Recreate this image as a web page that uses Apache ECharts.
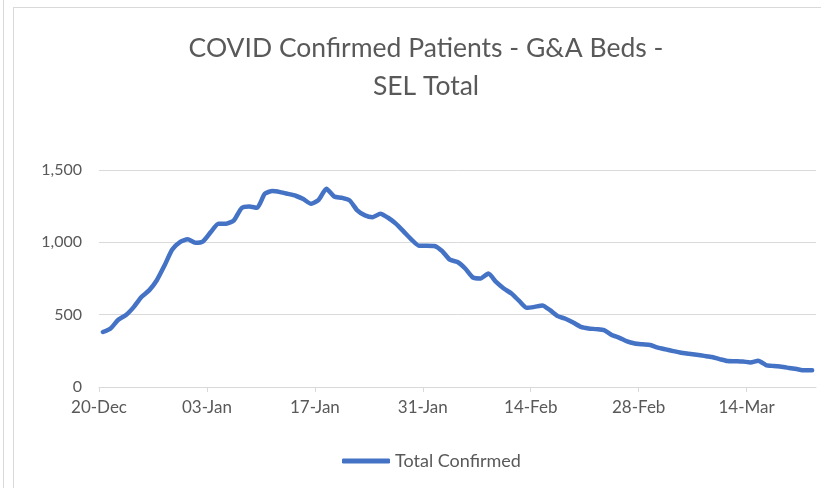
<!doctype html>
<html lang="en">
<head>
    <meta charset="utf-8">
    <title>COVID Confirmed Patients - G&amp;A Beds - SEL Total</title>
    <script type="text/javascript" src="https://cdn.jsdelivr.net/npm/echarts@6/dist/echarts.min.js"></script>
    <style>
        html, body { margin: 0; padding: 0; background: #ffffff; }
        #main { position: absolute; left: 0; top: 0; width: 821px; height: 488px; }
        .frame { position: absolute; border: 1px solid #d9d9d9; pointer-events: none; }
    </style>
</head>
<body>

<div id="main"></div>
<!-- the thin panel edges round the chart -->
<div class="frame" style="left:3px;top:-2px;width:0;height:492px;border-width:0 0 0 1px;"></div>
<div class="frame" style="left:13px;top:7px;width:820px;height:490px;"></div>

<script type="text/javascript">

    // one point per day, 20-Dec to 22-Mar
    var tickLabels = ['20-Dec', '03-Jan', '17-Jan', '31-Jan', '14-Feb', '28-Feb', '14-Mar'];
    var totalConfirmed = [
        380, 405, 465, 497, 552, 622, 668, 738, 840, 950,
        1002, 1021, 997, 1007, 1071, 1129, 1129, 1152, 1237, 1248,
        1239, 1336, 1354, 1347, 1335, 1322, 1299, 1267, 1294, 1370,
        1317, 1308, 1290, 1221, 1186, 1174, 1198, 1170, 1129, 1076,
        1021, 977, 977, 975, 940, 880, 864, 819, 757, 750,
        784, 726, 681, 646, 595, 547, 554, 564, 531, 490,
        472, 446, 416, 405, 400, 393, 360, 340, 315, 301,
        295, 290, 272, 260, 248, 237, 230, 223, 215, 207,
        193, 180, 178, 176, 170, 181, 152, 145, 140, 132,
        124, 115, 115
    ];
    var seriesName = 'Total Confirmed';

    var textColor = '#595959';
    var gridColor = '#d9d9d9';

    // x is day number, each point sits in the middle of its day
    var points = totalConfirmed.map(function (v, i) {
        return [i + 0.5, v];
    });
    var tickValues = tickLabels.map(function (d, i) {
        return i * 14;
    });

    var chartDom = document.getElementById('main');
    var myChart = echarts.init(chartDom, null, {renderer: 'canvas'});
    var option = {
        animation: false,
        title: {
            text: 'COVID Confirmed Patients - G&A Beds -\nSEL Total',
            left: 421,
            top: 24,
            textAlign: 'center',
            textStyle: {
                fontFamily: 'Lato',
                fontWeight: 'normal',
                fontSize: 26.5,
                lineHeight: 38,
                color: textColor
            }
        },
        legend: {
            left: 337,
            top: 447,
            icon: 'roundRect',
            itemWidth: 48,
            itemHeight: 5,
            itemGap: 10,
            textStyle: {
                fontFamily: 'Lato',
                fontSize: 18,
                color: textColor
            },
            data: [seriesName]
        },
        grid: {
            left: 99,
            right: 5,
            top: 170,
            bottom: 101,
            containLabel: false
        },
        xAxis: {
            type: 'value',
            min: 0,
            max: totalConfirmed.length,
            interval: 14,
            axisLine: {lineStyle: {color: gridColor, width: 1}},
            axisTick: {
                show: true,
                length: 5,
                lineStyle: {color: gridColor},
                customValues: tickValues
            },
            splitLine: {show: false},
            axisLabel: {
                customValues: tickValues,
                margin: 12,
                fontFamily: 'Lato',
                fontSize: 17,
                color: textColor,
                formatter: function (v) {
                    var k = Math.round(v / 14);
                    return tickLabels[k] || '';
                }
            }
        },
        yAxis: {
            type: 'value',
            min: 0,
            max: 1500,
            interval: 500,
            axisLine: {show: false},
            axisTick: {show: false},
            splitLine: {lineStyle: {color: gridColor, width: 1}},
            axisLabel: {
                margin: 17,
                fontFamily: 'Lato',
                fontSize: 16,
                color: textColor,
                formatter: function (v) {
                    return v.toLocaleString('en-US');
                }
            }
        },
        series: [
            {
                name: seriesName,
                type: 'line',
                data: points,
                showSymbol: false,
                symbol: 'none',
                smooth: 0.2,
                lineStyle: {
                    color: '#4472c4',
                    width: 4.5,
                    cap: 'round',
                    join: 'round'
                },
                itemStyle: {color: '#4472c4'}
            }
        ]
    };

    option && myChart.setOption(option);

</script>
</body>
</html>
